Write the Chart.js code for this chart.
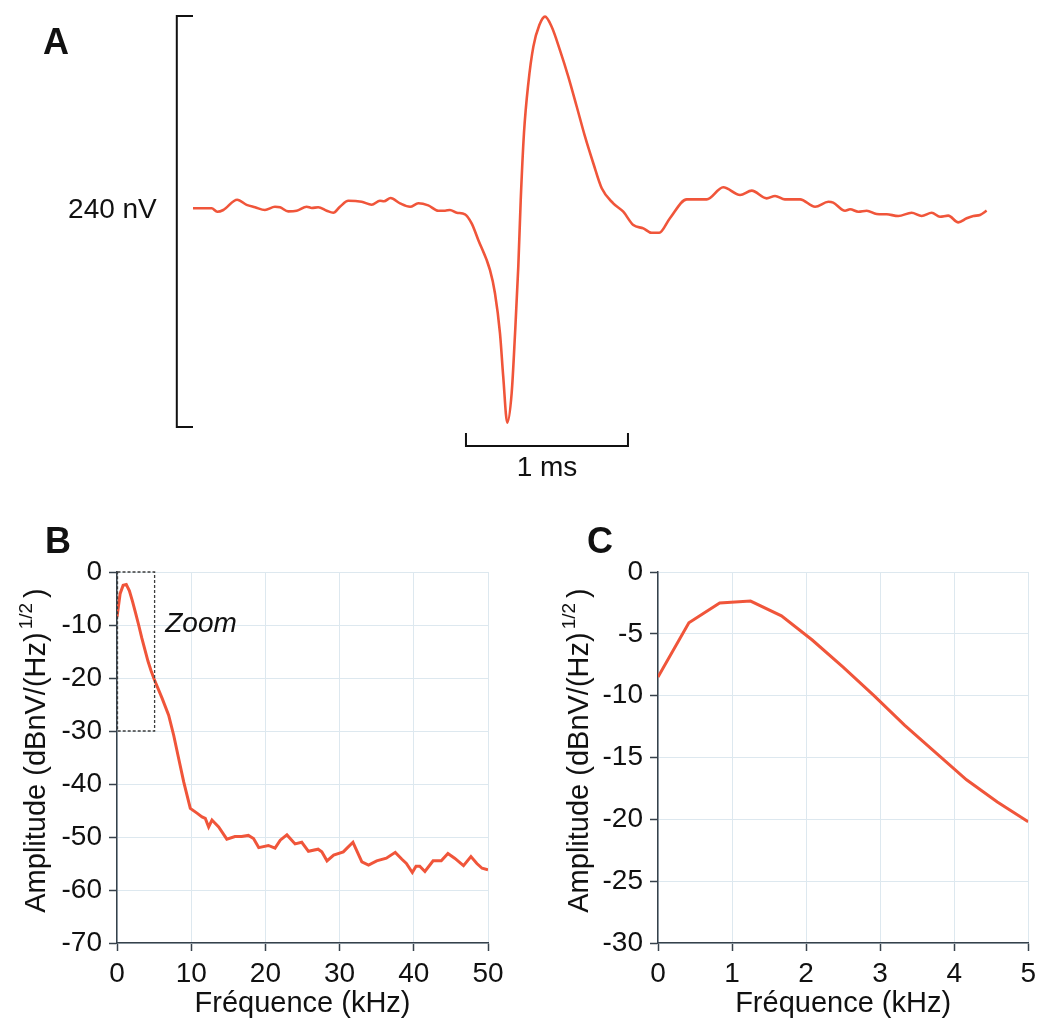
<!DOCTYPE html>
<html>
<head>
<meta charset="utf-8">
<script src="https://cdn.jsdelivr.net/npm/chart.js@4.4.1/dist/chart.umd.min.js"></script>
<style>
  body { margin: 0; background: #fff; }
  #wrap { position: relative; width: 1042px; height: 1021px; overflow: hidden; }
  canvas { position: absolute; }
  .lettre { position: absolute; font: bold 36px "Liberation Sans", Arial, sans-serif; line-height: 1; color: #111; }
</style>
</head>
<body>
<div id="wrap">
  <canvas id="chartA" width="1042" height="500" style="left:0;top:0"></canvas>
  <canvas id="chartB" width="520" height="501" style="left:0;top:520px"></canvas>
  <canvas id="chartC" width="502" height="501" style="left:540px;top:520px"></canvas>
  <div class="lettre" style="left:43px;top:24px">A</div>
  <div class="lettre" style="left:45px;top:523px">B</div>
  <div class="lettre" style="left:587px;top:523px">C</div>
</div>
<script>
// === Dati ===
// A: potenziale registrato (tempo in ms, ampiezza in nV)
const timeA = [0.00, 0.115, 0.15, 0.187, 0.273, 0.331, 0.383, 0.444, 0.506, 0.537,
  0.588, 0.640, 0.702, 0.733, 0.773, 0.825, 0.866, 0.907, 0.959, 1.041,
  1.103, 1.154, 1.179, 1.220, 1.278, 1.340, 1.391, 1.452, 1.514, 1.556,
  1.586, 1.628, 1.679, 1.720, 1.761, 1.833, 1.864, 1.895, 1.915, 1.940,
  1.967, 1.988, 2.008, 2.023, 2.043, 2.070, 2.101, 2.138, 2.173, 2.214,
  2.265, 2.317, 2.369, 2.420, 2.471, 2.523, 2.594, 2.656, 2.718, 2.780,
  2.831, 2.878, 2.944, 3.048, 3.171, 3.273, 3.377, 3.449, 3.541, 3.593,
  3.654, 3.747, 3.840, 3.922, 3.952, 4.025, 4.056, 4.107, 4.159, 4.220,
  4.282, 4.354, 4.436, 4.498, 4.560, 4.611, 4.662, 4.724, 4.776, 4.817,
  4.858, 4.899];
const voltA = [1, 1, -1, 0, 6, 3, 1.6, 0, 1.9, 1.6,
  -0.8, -0.4, 1.9, 1.2, 1.6, -0.4, -1.6, 1.9, 5.4, 4.8,
  3.1, 5.4, 5.1, 7.0, 3.9, 1.9, 3.9, 2.7, -0.4, -0.4,
  0, -1.6, -2.5, -7.8, -17.5, -35.0, -48.6, -72.0, -97.3, -124.2,
  -107.0, -72.0, -33.1, 5.8, 44.8, 74.0, 95.4, 108.0, 112.9, 107.0,
  93.4, 77.8, 60.3, 42.8, 27.3, 12.7, 3.9, -1.0, -8.8, -10.7,
  -13.3, -13.3, -4.8, 6.2, 6.2, 13.3, 8.8, 11.3, 6.8, 8.2,
  6.2, 6.2, 1.9, 4.8, 4.3, -0.4, 0.4, -1.0, -0.4, -2.3,
  -2.5, -3.5, -1.6, -3.5, -1.6, -3.9, -3.3, -7.2, -4.8, -3.5,
  -2.9, -0.4];

// barre di scala
const scaleBarV = 240;       // nV
const scaleBarVBottom = -126.7;
const scaleBarT = 1;         // ms
const scaleBarTStart = 1.685;
const scaleBarTLevel = -137.8;

// B: spettro 0-50 kHz
const freqB = [0, 0.42, 0.83, 1.25, 1.67, 2.08, 2.5, 2.92, 3.33, 3.75,
  4.17, 4.58, 5.0, 6.07, 6.96, 7.64, 8.31, 8.99, 9.88, 10.78,
  11.46, 11.9, 12.35, 12.8, 13.7, 14.8, 15.9, 16.8, 17.7, 18.4,
  19.1, 20.4, 21.3, 22.0, 22.9, 24.0, 24.9, 25.8, 27.1, 27.6,
  28.3, 29.2, 30.5, 31.0, 31.8, 33.0, 33.9, 35.0, 36.3, 37.5,
  38.4, 39.0, 39.8, 40.3, 40.8, 41.5, 42.6, 43.7, 44.6, 45.5,
  46.7, 47.7, 48.5, 49.2, 50.0];
const ampB = [-8.5, -4.1, -2.5, -2.35, -3.55, -5.5, -7.7, -10.0, -12.4, -14.6,
  -16.8, -18.6, -20.2, -23.8, -27.0, -30.8, -35.2, -39.6, -44.6, -45.5,
  -46.2, -46.5, -48.1, -46.8, -48.1, -50.4, -49.9, -49.9, -49.7, -50.3,
  -52.0, -51.6, -52.1, -50.6, -49.6, -51.3, -51.0, -52.7, -52.3, -52.8,
  -54.5, -53.4, -52.8, -52.1, -51.0, -54.7, -55.3, -54.5, -54.0, -52.9,
  -54.2, -55.0, -56.7, -55.5, -55.5, -56.5, -54.5, -54.5, -53.1, -54.0,
  -55.4, -53.7, -55.0, -55.9, -56.2];
const zoomBox = [5, -30];        // kHz max, dB min
const zoomLabel = [6.5, -9.8];   // posizione testo "Zoom"

// C: zoom 0-5 kHz
const freqC = [0, 0.417, 0.833, 1.25, 1.667, 2.083, 2.5, 2.917, 3.333, 3.75, 4.167, 4.583, 5.0];
const ampC = [-8.5, -4.1, -2.5, -2.35, -3.55, -5.5, -7.7, -10.0, -12.4, -14.6, -16.8, -18.6, -20.2];

const FONT = '"Liberation Sans", Arial, sans-serif';
const RED = '#f0553a';
const INK = '#111';
const AXIS = '#36414b';
const GRID = '#dde8ef';

Chart.defaults.font.family = FONT;
Chart.defaults.color = INK;
Chart.defaults.animation = false;

const toXY = (xs, ys) => xs.map((x, i) => ({ x: x, y: ys[i] }));

// === Pannello A ===
const scaleBars = {
  id: 'scaleBars',
  afterDatasetsDraw(chart) {
    const { ctx, scales: { x, y } } = chart;
    ctx.save();
    ctx.strokeStyle = INK;
    ctx.lineWidth = 2;
    // barra verticale 240 nV
    const bx = x.getPixelForValue(-0.1);
    const bx2 = x.getPixelForValue(0);
    const yb = y.getPixelForValue(scaleBarVBottom);
    const yt = y.getPixelForValue(scaleBarVBottom + scaleBarV);
    ctx.beginPath();
    ctx.moveTo(bx2, yt); ctx.lineTo(bx, yt); ctx.lineTo(bx, yb); ctx.lineTo(bx2, yb);
    ctx.stroke();
    // barra orizzontale 1 ms
    const hx1 = x.getPixelForValue(scaleBarTStart);
    const hx2 = x.getPixelForValue(scaleBarTStart + scaleBarT);
    const hy = y.getPixelForValue(scaleBarTLevel);
    ctx.beginPath();
    ctx.moveTo(hx1, hy - 13); ctx.lineTo(hx1, hy); ctx.lineTo(hx2, hy); ctx.lineTo(hx2, hy - 13);
    ctx.stroke();
    ctx.fillStyle = INK;
    ctx.font = '28px ' + FONT;
    ctx.textAlign = 'right';
    ctx.textBaseline = 'middle';
    ctx.fillText(scaleBarV + ' nV', bx - 20, y.getPixelForValue(0));
    ctx.textAlign = 'center';
    ctx.textBaseline = 'top';
    ctx.fillText(scaleBarT + ' ms', (hx1 + hx2) / 2, hy + 8);
    ctx.restore();
  }
};

new Chart(document.getElementById('chartA'), {
  type: 'line',
  data: { datasets: [{ data: toXY(timeA, voltA), borderColor: RED, borderWidth: 2.6, pointRadius: 0, cubicInterpolationMode: 'monotone' }] },
  options: {
    responsive: false,
    devicePixelRatio: 1,
    layout: { padding: { left: 176.8, right: 39, top: 13.06, bottom: 50.25 } },
    plugins: { legend: { display: false }, tooltip: { enabled: false } },
    scales: {
      x: { type: 'linear', display: false, min: -0.1, max: 5.0 },
      y: { display: false, min: -140, max: 115 }
    }
  },
  plugins: [scaleBars]
});

// === Pannelli B e C ===
function yTitle(xPos) {
  return {
    id: 'yTitle',
    afterDraw(chart) {
      const { ctx, chartArea } = chart;
      const cy = (chartArea.top + chartArea.bottom) / 2 - 7;
      ctx.save();
      ctx.translate(xPos, cy);
      ctx.rotate(-Math.PI / 2);
      ctx.fillStyle = INK;
      ctx.textBaseline = 'alphabetic';
      ctx.textAlign = 'left';
      const main = 'Amplitude (dBnV/(Hz)';
      ctx.font = '29px ' + FONT;
      const w1 = ctx.measureText(main).width;
      const w3 = ctx.measureText(')').width;
      ctx.font = '19px ' + FONT;
      const w2 = ctx.measureText('1/2').width;
      let px = -(w1 + w2 + w3 + 8) / 2;
      ctx.font = '29px ' + FONT;
      ctx.fillText(main, px, 0);
      px += w1 + 3;
      ctx.font = '19px ' + FONT;
      ctx.fillText('1/2', px, -13);
      px += w2 + 5;
      ctx.font = '29px ' + FONT;
      ctx.fillText(')', px, 0);
      ctx.restore();
    }
  };
}

const zoomPlugin = {
  id: 'zoomBox',
  afterDatasetsDraw(chart) {
    const { ctx, scales: { x, y } } = chart;
    const x0 = x.getPixelForValue(0), x1 = x.getPixelForValue(zoomBox[0]);
    const y0 = y.getPixelForValue(0), y1 = y.getPixelForValue(zoomBox[1]);
    ctx.save();
    ctx.strokeStyle = '#3c3c3c';
    ctx.lineWidth = 1.3;
    ctx.setLineDash([3, 2]);
    ctx.strokeRect(x0 + 0.5, y0, x1 - x0, y1 - y0);
    ctx.setLineDash([]);
    ctx.fillStyle = INK;
    ctx.font = 'italic 28px ' + FONT;
    ctx.textBaseline = 'middle';
    ctx.fillText('Zoom', x.getPixelForValue(zoomLabel[0]), y.getPixelForValue(zoomLabel[1]));
    ctx.restore();
  }
};

function spectrum(id, xs, ys, xMax, xStep, yMin, yStep, padRight, yWidth, titleX, extra) {
  return new Chart(document.getElementById(id), {
    type: 'line',
    data: { datasets: [{ data: toXY(xs, ys), borderColor: RED, borderWidth: 3, pointRadius: 0, tension: 0 }] },
    options: {
      responsive: false,
      devicePixelRatio: 1,
      layout: { padding: { left: 0, right: padRight, top: 52, bottom: 0 } },
      plugins: { legend: { display: false }, tooltip: { enabled: false } },
      scales: {
        x: {
          type: 'linear', min: 0, max: xMax,
          ticks: { stepSize: xStep, font: { size: 28 }, padding: 6, color: INK, maxRotation: 0 },
          grid: { color: GRID, lineWidth: 1, tickLength: 8, tickColor: AXIS, tickWidth: 1.5 },
          border: { color: AXIS, width: 1.5 },
          title: { display: true, text: 'Fréquence (kHz)', font: { size: 29 }, padding: 0, color: INK },
          afterFit: s => { s.height = 78; }
        },
        y: {
          min: yMin, max: 0,
          ticks: { stepSize: yStep, font: { size: 28 }, padding: 7, color: INK },
          grid: { color: GRID, lineWidth: 1, tickLength: 8, tickColor: AXIS, tickWidth: 1.5 },
          border: { color: AXIS, width: 1.5 },
          afterFit: s => { s.width = yWidth; }
        }
      }
    },
    plugins: [yTitle(titleX)].concat(extra)
  });
}

spectrum('chartB', freqB, ampB, 50, 10, -70, 10, 32, 117, 45, [zoomPlugin]);
spectrum('chartC', freqC, ampC, 5, 1, -30, 5, 13, 118, 48, []);
</script>
</body>
</html>
